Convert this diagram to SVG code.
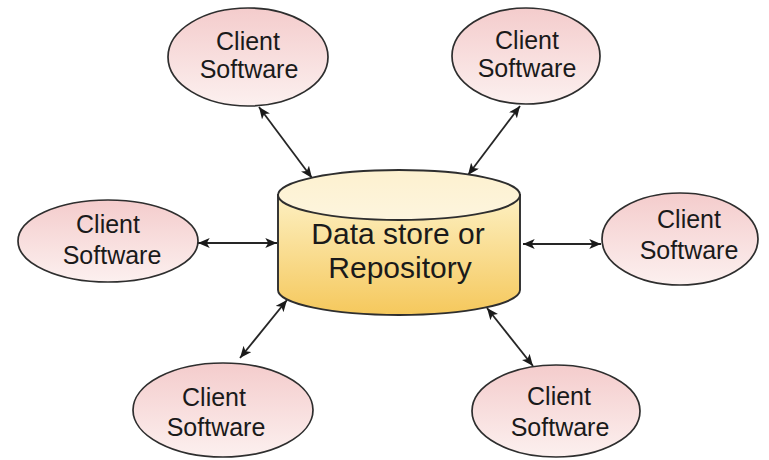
<svg xmlns="http://www.w3.org/2000/svg" width="769" height="460" viewBox="0 0 769 460">
  <style>
    .client ellipse { fill: url(#clientFill); stroke: #2e2e2e; stroke-width: 1.7; }
    .label { font-family: "Liberation Sans", Arial, Helvetica, sans-serif; fill: #1a1a1a; text-anchor: middle; }
    .client .label { font-size: 25px; }
    .store .label { font-size: 30px; }
    .store .body, .store .lid { stroke: #2e2e2e; stroke-width: 1.9; }
    .store .body { fill: url(#storeBody); }
    .store .lid { fill: url(#storeLid); }
    .link { stroke: #262626; stroke-width: 1.8; fill: none; marker-start: url(#head); marker-end: url(#head); }
  </style>
  <defs>
    <linearGradient id="clientFill" x1="0" y1="0" x2="0" y2="1">
      <stop offset="0" stop-color="#f4cccc"/>
      <stop offset="1" stop-color="#fcf0ef"/>
    </linearGradient>
    <linearGradient id="storeBody" x1="0" y1="0" x2="0" y2="1">
      <stop offset="0" stop-color="#fdf0c2"/>
      <stop offset="1" stop-color="#f5c85c"/>
    </linearGradient>
    <linearGradient id="storeLid" x1="0" y1="0" x2="0" y2="1">
      <stop offset="0" stop-color="#fdf1cf"/>
      <stop offset="1" stop-color="#fdf5de"/>
    </linearGradient>
    <marker id="head" viewBox="0 0 10 10" refX="10" refY="5" markerWidth="6.5" markerHeight="5.5" orient="auto-start-reverse" markerUnits="strokeWidth" preserveAspectRatio="none">
      <path d="M0,0 L10,5 L0,10 L2.5,5 Z" fill="#1a1a1a"/>
    </marker>
  </defs>

  <rect width="769" height="460" fill="#ffffff"/>

  <!-- connectors: each client talks to the shared store both ways -->
  <g id="connectors">
    <line class="link" x1="259" y1="107" x2="312" y2="178"/>
    <line class="link" x1="520" y1="106" x2="468" y2="175"/>
    <line class="link" x1="198" y1="243" x2="277" y2="243"/>
    <line class="link" x1="523" y1="244" x2="601" y2="244"/>
    <line class="link" x1="287" y1="300" x2="240" y2="358"/>
    <line class="link" x1="487" y1="308" x2="533" y2="366"/>
  </g>

  <!-- central repository drawn as a cylinder -->
  <g id="store" class="store">
    <path class="body" d="M278,195 L278,290 A121,25 0 0 0 520,290 L520,195 Z"/>
    <ellipse class="lid" cx="399" cy="195" rx="121" ry="25"/>
    <text class="label" x="398" y="244">Data store or</text>
    <text class="label" x="400" y="278">Repository</text>
  </g>

  <g id="client-top-left" class="client">
    <ellipse cx="248" cy="57" rx="80" ry="49"/>
    <text class="label" x="248" y="50">Client</text>
    <text class="label" x="249" y="78">Software</text>
  </g>

  <g id="client-top-right" class="client">
    <ellipse cx="526" cy="56" rx="74" ry="48"/>
    <text class="label" x="527" y="49">Client</text>
    <text class="label" x="527" y="77">Software</text>
  </g>

  <g id="client-left" class="client">
    <ellipse cx="108" cy="241" rx="90" ry="41"/>
    <text class="label" x="108" y="233">Client</text>
    <text class="label" x="112" y="264">Software</text>
  </g>

  <g id="client-right" class="client">
    <ellipse cx="680" cy="239" rx="78" ry="46"/>
    <text class="label" x="689" y="228">Client</text>
    <text class="label" x="689" y="259">Software</text>
  </g>

  <g id="client-bottom-left" class="client">
    <ellipse cx="223" cy="410" rx="90" ry="47"/>
    <text class="label" x="214" y="406">Client</text>
    <text class="label" x="216" y="436">Software</text>
  </g>

  <g id="client-bottom-right" class="client">
    <ellipse cx="556" cy="411" rx="84" ry="46"/>
    <text class="label" x="559" y="405">Client</text>
    <text class="label" x="560" y="436">Software</text>
  </g>
</svg>
